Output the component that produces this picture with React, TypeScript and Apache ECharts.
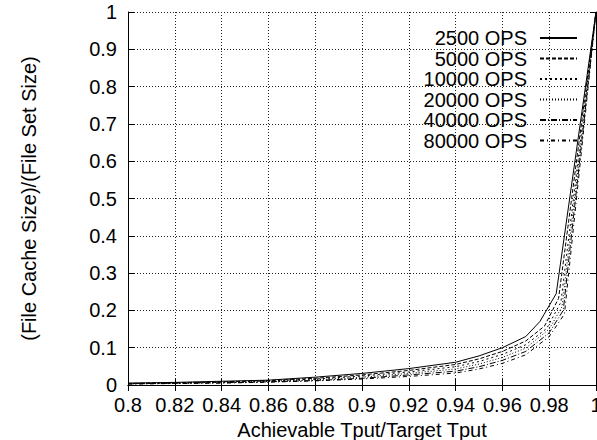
import React, { useEffect, useRef } from "react";
import * as echarts from "echarts";

const seriesNames = ["2500 OPS", "5000 OPS", "10000 OPS", "20000 OPS", "40000 OPS", "80000 OPS"];

const tput2500 = [0.8, 0.82, 0.84, 0.86, 0.88, 0.9, 0.92, 0.94, 0.95, 0.96, 0.97, 0.976, 0.983, 1.0];
const ratio2500 = [0.005, 0.007, 0.01, 0.013, 0.021, 0.031, 0.044, 0.061, 0.078, 0.1, 0.13, 0.17, 0.245, 1.0];

const tput5000 = [0.8, 0.82, 0.84, 0.86, 0.88, 0.9, 0.92, 0.94, 0.95, 0.96, 0.97, 0.978, 0.984, 1.0];
const ratio5000 = [0.0045, 0.006, 0.0085, 0.012, 0.018, 0.027, 0.039, 0.055, 0.07, 0.09, 0.118, 0.158, 0.232, 1.0];

const tput10000 = [0.8, 0.82, 0.84, 0.86, 0.88, 0.9, 0.92, 0.94, 0.95, 0.96, 0.97, 0.979, 0.985, 1.0];
const ratio10000 = [0.004, 0.0055, 0.0075, 0.011, 0.016, 0.024, 0.035, 0.049, 0.063, 0.082, 0.108, 0.152, 0.222, 1.0];

const tput20000 = [0.8, 0.82, 0.84, 0.86, 0.88, 0.9, 0.92, 0.94, 0.95, 0.96, 0.97, 0.98, 0.9855, 1.0];
const ratio20000 = [0.0035, 0.005, 0.007, 0.0095, 0.014, 0.021, 0.031, 0.043, 0.056, 0.074, 0.099, 0.15, 0.21, 1.0];

const tput40000 = [0.8, 0.82, 0.84, 0.86, 0.88, 0.9, 0.92, 0.94, 0.95, 0.96, 0.97, 0.98, 0.986, 1.0];
const ratio40000 = [0.003, 0.0045, 0.006, 0.0085, 0.012, 0.018, 0.027, 0.037, 0.049, 0.066, 0.09, 0.14, 0.2, 1.0];

const tput80000 = [0.8, 0.82, 0.84, 0.86, 0.88, 0.9, 0.92, 0.94, 0.95, 0.96, 0.97, 0.98, 0.9865, 1.0];
const ratio80000 = [0.0025, 0.004, 0.005, 0.0075, 0.011, 0.016, 0.023, 0.032, 0.043, 0.058, 0.081, 0.13, 0.19, 1.0];

const xs = [tput2500, tput5000, tput10000, tput20000, tput40000, tput80000];
const ys = [ratio2500, ratio5000, ratio10000, ratio20000, ratio40000, ratio80000];

const dashes: (string | number[])[] = ["solid", [4, 2], [2, 3], [1, 2], [6, 2, 1, 2], [4, 3, 1, 3]];

const FONT = "Liberation Sans, Arial, Helvetica, sans-serif";

export default function App() {
  const ref = useRef<HTMLDivElement>(null);
  useEffect(() => {
    if (!ref.current) return;
    const chart = echarts.init(ref.current, undefined, { renderer: "svg" });
    const gridLine = { show: true, lineStyle: { color: "#222", type: [1, 2] as number[], width: 1 } };
    const hiddenAxisCommon = {
      axisLabel: { show: false },
      splitLine: { show: false },
      axisLine: { show: true, lineStyle: { color: "#000", width: 1 } },
      axisTick: { show: true, inside: true, length: 6, lineStyle: { color: "#000" } },
    };
    chart.setOption({
      animation: false,
      backgroundColor: "#fff",
      textStyle: { fontFamily: FONT },
      grid: { left: 128, right: 1, top: 12, bottom: 55, containLabel: false, outerBoundsMode: "none" },
      legend: {
        orient: "vertical",
        right: 19,
        top: 28,
        padding: 0,
        align: "right",
        itemWidth: 37,
        itemHeight: 20,
        itemGap: 0.5,
        data: seriesNames,
        itemStyle: { color: "transparent", borderColor: "transparent", borderWidth: 0, opacity: 0 },
        textStyle: { fontFamily: FONT, fontSize: 20, color: "#000", lineHeight: 20, padding: [0, 8, 0, 0] },
      },
      xAxis: [
        {
          type: "value",
          min: 0.8,
          max: 1,
          interval: 0.02,
          position: "bottom",
          name: "Achievable Tput/Target Tput",
          nameLocation: "middle",
          nameGap: 25,
          nameTextStyle: { fontFamily: FONT, fontSize: 20, color: "#000", lineHeight: 20 },
          axisLine: { show: true, onZero: false, lineStyle: { color: "#000", width: 1 } },
          axisTick: { show: true, inside: true, length: 6, lineStyle: { color: "#000" } },
          axisLabel: { fontFamily: FONT, fontSize: 20, color: "#000", margin: 10, showMaxLabel: true, showMinLabel: true },
          splitLine: gridLine,
        },
        {
          type: "value",
          min: 0.8,
          max: 1,
          interval: 0.02,
          position: "top",
          ...hiddenAxisCommon,
        },
      ],
      yAxis: [
        {
          type: "value",
          min: 0,
          max: 1,
          interval: 0.1,
          position: "left",
          name: "(File Cache Size)/(File Set Size)",
          nameLocation: "middle",
          nameGap: 89,
          nameTextStyle: { fontFamily: FONT, fontSize: 20, color: "#000" },
          axisLine: { show: true, onZero: false, lineStyle: { color: "#000", width: 1 } },
          axisTick: { show: true, inside: true, length: 6, lineStyle: { color: "#000" } },
          axisLabel: { fontFamily: FONT, fontSize: 20, color: "#000", margin: 11 },
          splitLine: gridLine,
        },
        {
          type: "value",
          min: 0,
          max: 1,
          interval: 0.1,
          position: "right",
          ...hiddenAxisCommon,
        },
      ],
      series: seriesNames.map((name, i) => ({
        name,
        type: "line",
        xAxisIndex: 0,
        yAxisIndex: 0,
        symbol: "none",
        data: xs[i].map((x, j) => [x, ys[i][j]]),
        lineStyle: { color: "#000", width: 1, type: dashes[i] },
        itemStyle: { color: "#000" },
        z: 10 - i,
      })),
    });
    return () => chart.dispose();
  }, []);
  return (
    <div
      ref={ref}
      style={{ position: "fixed", left: 0, top: 0, width: 597, height: 440, background: "#fff" }}
    />
  );
}
